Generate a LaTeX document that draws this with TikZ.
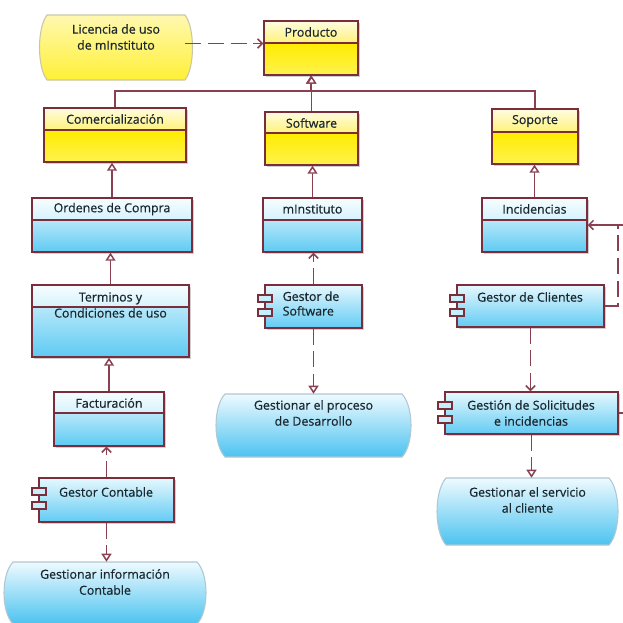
\documentclass[tikz,border=0pt]{standalone}
\usepackage{fontspec}
\setmainfont{Open Sans}[FakeBold=0.6]
\usetikzlibrary{arrows.meta,fit,calc}
\definecolor{bord}{HTML}{7A2E3C}
\definecolor{conn}{HTML}{8A4050}
\definecolor{txtc}{HTML}{1C2830}
\definecolor{shadowc}{HTML}{CFCFCF}
\definecolor{yh1}{HTML}{FFFCE0}
\definecolor{yh2}{HTML}{FFF27A}
\definecolor{yb1}{HTML}{FFEC00}
\definecolor{yb2}{HTML}{FFF24E}
\definecolor{bh1}{HTML}{F6FDFF}
\definecolor{bh2}{HTML}{D6F2FC}
\definecolor{bb1}{HTML}{B6E8FA}
\definecolor{bb2}{HTML}{5ECAF3}
\definecolor{cp1}{HTML}{E6F8FE}
\definecolor{cp2}{HTML}{62CBF3}
\definecolor{icf}{HTML}{C6EEFB}
\definecolor{bl1}{HTML}{EEFAFF}
\definecolor{bl2}{HTML}{9EDDF7}
\definecolor{bl3}{HTML}{4CC3F0}
\definecolor{blb}{HTML}{AFC8D2}
\definecolor{ly1}{HTML}{FFF8B0}
\definecolor{ly2}{HTML}{FFEE00}
\definecolor{ly3}{HTML}{FFF036}
\definecolor{lyb}{HTML}{C9C7A8}
\tikzset{
  x=0.75pt, y=-0.75pt,
  txt/.style={font=\fontsize{9.3}{12}\selectfont, text=txtc, align=center, inner sep=0pt},
  boxline/.style={draw=bord, line width=1.1pt},
  conline/.style={draw=conn, line width=1.1pt},
  dashline/.style={conline, dash pattern=on 12pt off 5pt},
  gen/.style={conline, -{Triangle[open, length=6pt, width=7.5pt, fill=white]}},
  dep/.style={dashline, -{Straight Barb[length=3.5pt, width=7pt]}},
  real/.style={dashline, -{Triangle[open, length=6pt, width=7.5pt, fill=white]}},
  yelhead/.style={top color=yh1, bottom color=yh2},
  yelbody/.style={top color=yb1, bottom color=yb2},
  bluhead/.style={top color=bh1, bottom color=bh2},
  blubody/.style={top color=bb1, bottom color=bb2},
  compfill/.style={top color=cp1, bottom color=cp2},
  blobblue/.style={top color=bl1, middle color=bl2, bottom color=bl3, draw=blb, line width=0.8pt},
  blobyel/.style={top color=ly1, middle color=ly2, bottom color=ly3, draw=lyb, line width=0.8pt},
}
% #1 name, #2 x1, #3 y1, #4 x2, #5 y2, #6 ydiv, #7 scheme, #8 text y, #9 text
\newcommand{\classbox}[9]{%
  \fill[shadowc] ({#2+2},{#3+2}) rectangle ({#4+2},{#5+2});
  \shade[#7head] (#2,#3) rectangle (#4,#6);
  \shade[#7body] (#2,#6) rectangle (#4,#5);
  \draw[boxline] (#2,#6) -- (#4,#6);
  \node[fit={(#2,#3)(#4,#5)}, inner sep=0pt, boxline] (#1) {};
  \node[txt] (#1-t) at ({(#2+#4)/2},#8) {#9};
}
% #1 name, #2 x1, #3 y1, #4 x2, #5 y2, #6 text x, #7 text y, #8 text
\newcommand{\compbox}[8]{%
  \fill[shadowc] ({#2+2},{#3+2}) rectangle ({#4+2},{#5+2});
  \shade[compfill] (#2,#3) rectangle (#4,#5);
  \node[fit={(#2,#3)(#4,#5)}, inner sep=0pt, boxline] (#1) {};
  \filldraw[fill=icf, draw=bord, line width=0.8pt] ({#2-7},{#3+10}) rectangle ({#2+7},{#3+17});
  \filldraw[fill=icf, draw=bord, line width=0.8pt] ({#2-7},{#3+24}) rectangle ({#2+7},{#3+31});
  \node[txt] (#1-t) at (#6,#7) {#8};
}
% #1 name, #2 x1, #3 y1, #4 x2, #5 y2, #6 bulge, #7 style, #8 text y, #9 text
\newcommand{\blobnode}[9]{%
  \shade[#7] (#2,#3) -- (#4,#3)
     .. controls ({#4+#6},{#3+(#5-#3)*0.2}) and ({#4+#6},{#5-(#5-#3)*0.2}) .. (#4,#5)
     -- (#2,#5)
     .. controls ({#2-#6},{#5-(#5-#3)*0.2}) and ({#2-#6},{#3+(#5-#3)*0.2}) .. (#2,#3) -- cycle;
  \node[fit={(#2,#3)(#4,#5)}, inner sep=0pt] (#1) {};
  \node[txt] (#1-t) at ({(#2+#4)/2},#8) {#9};
}
\begin{document}
\begin{tikzpicture}
\fill[white] (0,0) rectangle (623,622);
\useasboundingbox (0,0) rectangle (623,622);

% top row
\blobnode{lic}{47}{15}{185}{80}{10}{blobyel}{37}{Licencia de uso\\de mInstituto}
\classbox{prod}{264}{21}{358}{75}{43}{yel}{32}{Producto}

% second row
\classbox{com}{44}{108}{186}{162}{130}{yel}{119}{Comercialización}
\classbox{sw}{265}{112}{358}{165}{133}{yel}{123}{Software}
\classbox{sop}{492}{109}{578}{164}{132}{yel}{121}{Soporte}

% third row
\classbox{ord}{32}{198}{192}{252}{220}{blu}{209}{Ordenes de Compra}
\classbox{mins}{263}{198}{362}{252}{220}{blu}{209}{mInstituto}
\classbox{inc}{482}{198}{587}{252}{220}{blu}{209}{Incidencias}

% fourth row
\classbox{ter}{32}{285}{189}{357}{307}{blu}{305}{Terminos y\\Condiciones de uso}
\compbox{gsw}{265}{285}{362}{328}{311}{305}{\begin{tabular}{@{}l@{}}Gestor de\\[-1pt]Software\end{tabular}}
\compbox{gcl}{457}{285}{604}{327}{530}{297}{Gestor de Clientes}

% fifth row
\classbox{fac}{54}{392}{164}{446}{413}{blu}{403}{Facturación}
\blobnode{gproc}{225}{394}{402}{457}{12}{blobblue}{413}{Gestionar el proceso\\de Desarrollo}
\compbox{gsol}{445}{392}{618}{434}{531}{413}{Gestión de Solicitudes\\e incidencias}

% sixth row
\compbox{gcon}{39}{478}{174}{522}{106}{492}{Gestor Contable}
\blobnode{gserv}{446}{478}{609}{545}{12}{blobblue}{500}{Gestionar el servicio\\al cliente}

% bottom
\blobnode{ginf}{13}{562}{197}{624}{12}{blobblue}{582}{Gestionar información\\Contable}

% coordinates
\coordinate (busy) at (0,91);
\coordinate (rc) at (618,0);
\coordinate (redge) at (624,0);

% connectors
\draw[dep] ([yshift=3pt]lic.east) -- ([yshift=3pt]lic.east -| prod.west);
\draw[gen] (com.north) |- (prod.south |- busy) -- (prod.south);
\draw[gen] (sop.north) |- (prod.south |- busy) -- (prod.south);
\draw[gen] (sw.north) -- (sw.north |- prod.south);
\draw[gen] (ord.north) -- (ord.north |- com.south);
\draw[gen] (ter.north) -- (ter.north |- ord.south);
\draw[gen] (fac.north) -- (fac.north |- ter.south);
\draw[gen] (mins.north) -- (mins.north |- sw.south);
\draw[gen] (inc.north) -- (inc.north |- sop.south);
\draw[dep] (gcon.north) -- (gcon.north |- fac.south);
\draw[dep] (gsw.north) -- (gsw.north |- mins.south);
\draw[real] (gcon.south) -- (gcon.south |- ginf.north);
\draw[real] (gsw.south) -- (gsw.south |- gproc.north);
\draw[real] (gsol.south) -- (gsol.south |- gserv.north);
\draw[dep] (gcl.south) -- (gcl.south |- gsol.north);
\draw[dashline] (gcl.east) -| (rc |- inc.east);
\draw[conline, -{Straight Barb[length=3.5pt, width=7pt]}] (redge |- inc.east) -- (inc.east);
\draw[conline] (gsol.east) -- (gsol.east -| redge);
\end{tikzpicture}
\end{document}
